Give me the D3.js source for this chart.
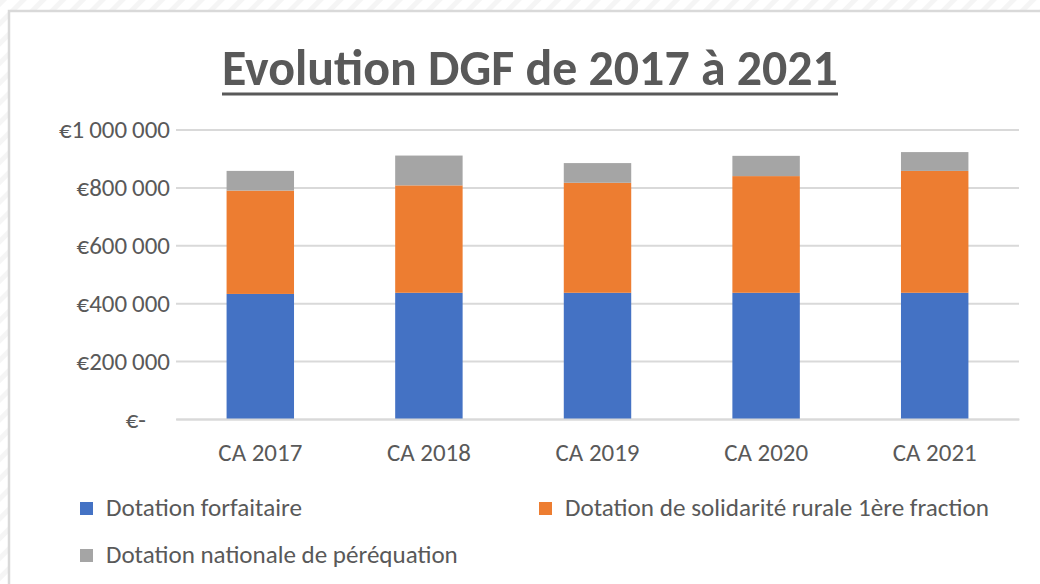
<!DOCTYPE html>
<html>
<head>
<meta charset="utf-8">
<script src="https://cdn.jsdelivr.net/npm/d3@7"></script>
<style>
  body { margin: 0; background: #fff; }
  svg { display: block; }
</style>
</head>
<body>
<div id="chart"></div>
<script>
var width = 1040,
height = 584;

// valeurs
const categories = ['CA 2017', 'CA 2018', 'CA 2019', 'CA 2020', 'CA 2021'];
const forfaitaire = [432000, 436000, 436000, 436000, 436000];
const solidarite = [357000, 371000, 380000, 403000, 421000];
const perequation = [68000, 103000, 68000, 70000, 65000];
const yTicks = [0, 200000, 400000, 600000, 800000, 1000000];
const seriesNames = ['Dotation forfaitaire', 'Dotation de solidarité rurale 1ère fraction', 'Dotation nationale de péréquation'];
const colors = ['#4472c4', '#ed7d31', '#a5a5a5'];

const font = 'Calibri, Carlito, Lato, sans-serif';
const textColor = '#595959';

const rows = categories.map((c, i) => ({
  cat: c,
  s0: forfaitaire[i],
  s1: solidarite[i],
  s2: perequation[i]
}));
const stack = d3.stack().keys(['s0', 's1', 's2'])(rows);

const svg = d3.select('#chart').
append('svg').
attr('width', width).
attr('height', height);

// fond hachuré autour du cadre
const defs = svg.append('defs');
const pat = defs.append('pattern').
attr('id', 'hatch').
attr('width', 14).
attr('height', 14).
attr('patternUnits', 'userSpaceOnUse').
attr('patternTransform', 'rotate(-45)');
pat.append('rect').attr('width', 14).attr('height', 14).attr('fill', '#fff');
pat.append('rect').attr('width', 14).attr('height', 5).attr('fill', '#f5f5f5');

svg.append('rect').
attr('width', width).
attr('height', height).
attr('fill', 'url(#hatch)');

svg.append('rect').
attr('x', 9).
attr('y', 11).
attr('width', width + 20).
attr('height', height + 20).
attr('fill', '#fff').
attr('stroke', '#d9d9d9').
attr('stroke-width', 2.5);

const x = d3.scaleBand().
domain(categories).
range([176, 1019]).
paddingInner(0.6).
paddingOuter(0.3);

const y = d3.scaleLinear().
domain([0, 1000000]).
range([419, 129.5]);

// ajuste la taille de police pour obtenir la largeur voulue
function fit(sel, targetW) {
  const w = sel.node().getComputedTextLength();
  const fs = parseFloat(sel.attr('font-size'));
  sel.attr('font-size', fs * targetW / w);
  return sel;
}

// grille + étiquettes (format comptable : "€-" décalé)
const yAxis = d3.axisLeft(y).
tickValues(yTicks).
tickSize(-(1019 - 176)).
tickPadding(6).
tickFormat(d => d === 0 ? '€-' : '€' + d3.format(',')(d).replace(/,/g, '\u2009'));

const gy = svg.append('g').
attr('transform', 'translate(176,0)').
call(yAxis);
gy.select('.domain').remove();
gy.selectAll('.tick line').
attr('stroke', '#d9d9d9').
attr('stroke-width', 2);
gy.selectAll('.tick text').
attr('fill', textColor).
attr('font-family', font).
attr('font-size', 22).
attr('dx', d => d === 0 ? -24 : 0);

// barres empilées
svg.append('g').
selectAll('g').
data(stack).
enter().
append('g').
attr('fill', (d, i) => colors[i]).
selectAll('rect').
data(d => d).
enter().
append('rect').
attr('x', d => x(d.data.cat)).
attr('width', x.bandwidth()).
attr('y', d => y(d[1])).
attr('height', d => y(d[0]) - y(d[1]));

// axe x
const gx = svg.append('g').
attr('transform', 'translate(0,419)').
call(d3.axisBottom(x).tickSize(0).tickPadding(24));
gx.select('.domain').attr('stroke', '#d9d9d9').attr('stroke-width', 2);
gx.selectAll('.tick text').
attr('fill', textColor).
attr('font-family', font).
attr('font-size', 22);
gx.selectAll('.tick text').each(function () { fit(d3.select(this), 84); });
const axisFs = parseFloat(gx.select('.tick text').attr('font-size'));
gy.selectAll('.tick text').attr('font-size', axisFs);

// titre
const title = svg.append('text').
attr('x', 530).
attr('y', 85).
attr('text-anchor', 'middle').
attr('font-family', font).
attr('font-weight', 'bold').
attr('font-size', 50).
attr('fill', textColor).
text('Evolution DGF de 2017 à 2021');
fit(title, 616);
svg.append('line').
attr('x1', 222).
attr('x2', 838).
attr('y1', 94).
attr('y2', 94).
attr('stroke', textColor).
attr('stroke-width', 3);

// légende
const legendPos = [[80, 502, 196], [539, 502, 424], [80, 549, 352]];
seriesNames.forEach((name, i) => {
  const p = legendPos[i];
  svg.append('rect').
  attr('x', p[0]).
  attr('y', p[1]).
  attr('width', 13).
  attr('height', 13).
  attr('fill', colors[i]);
  const t = svg.append('text').
  attr('x', p[0] + 26).
  attr('y', p[1] + 14).
  attr('font-family', font).
  attr('font-size', 22).
  attr('fill', textColor).
  text(name);
  fit(t, p[2]);
});
</script>
</body>
</html>
